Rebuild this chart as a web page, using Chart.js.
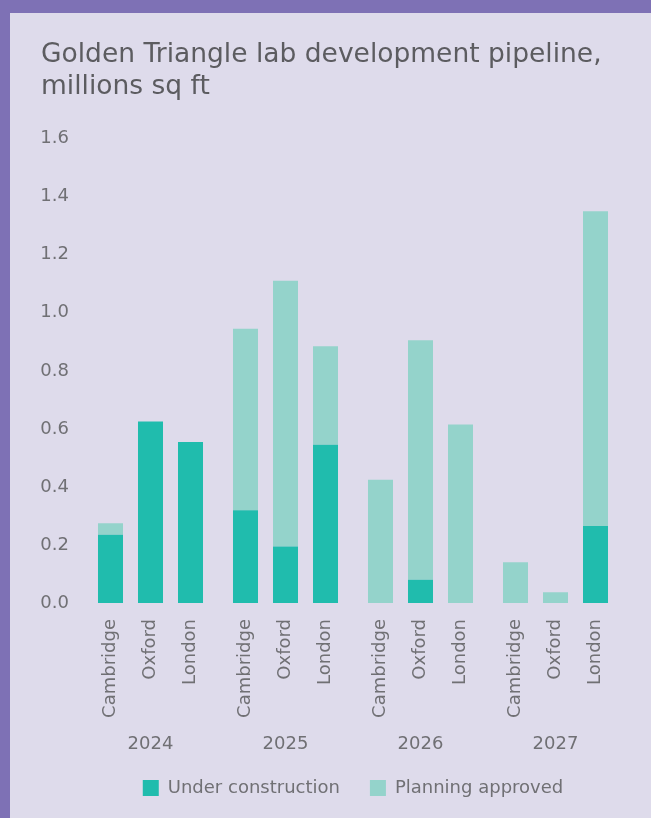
<!DOCTYPE html>
<html>
<head>
<meta charset="utf-8">
<script src="https://cdn.jsdelivr.net/npm/chart.js@4.4.1/dist/chart.umd.min.js"></script>
<style>
  html, body { margin: 0; height: 818px; overflow: hidden; background: #7e71b5; }
  #wrap { position: absolute; left: 10px; top: 13px; width: 641px; height: 805px; background: #dedbeb; }
</style>
</head>
<body>
<div id="wrap"><canvas id="pipeline" width="641" height="794"></canvas></div>
<script>
const FONT = "'DejaVu Sans', sans-serif";
const GREY = '#707074';

// data, millions sq ft
const years = ['2024', '2025', '2026', '2027'];
const cities = ['Cambridge', 'Oxford', 'London'];
const underConstruction = {
  Cambridge: [0.235, 0.32, 0, 0],
  Oxford:    [0.625, 0.195, 0.08, 0],
  London:    [0.555, 0.545, 0, 0.265]
};
const planningApproved = {
  Cambridge: [0.04, 0.625, 0.425, 0.14],
  Oxford:    [0, 0.915, 0.825, 0.037],
  London:    [0, 0.34, 0.615, 1.085]
};
const yTicks = [0, 0.2, 0.4, 0.6, 0.8, 1.0, 1.2, 1.4, 1.6];

const colUC = '#20bcad';
const colPA = '#94d3cb';

var datasets = [];
cities.forEach((city) => {
  datasets.push({ label: 'Under construction', stack: city, data: underConstruction[city], backgroundColor: colUC });
  datasets.push({ label: 'Planning approved', stack: city, data: planningApproved[city], backgroundColor: colPA });
});

// city names under each bar, rotated
const cityLabels = {
  id: 'cityLabels',
  afterDatasetsDraw(chart) {
    const ctx = chart.ctx;
    ctx.save();
    ctx.font = '18px ' + FONT;
    ctx.fillStyle = GREY;
    ctx.textAlign = 'right';
    ctx.textBaseline = 'middle';
    cities.forEach((city, c) => {
      const meta = chart.getDatasetMeta(c * 2);
      meta.data.forEach((bar) => {
        ctx.save();
        ctx.translate(bar.x, chart.chartArea.bottom + 16);
        ctx.rotate(-Math.PI / 2);
        ctx.fillText(city, 0, 0);
        ctx.restore();
      });
    });
    ctx.restore();
  }
};

new Chart(document.getElementById('pipeline'), {
  type: 'bar',
  data: { labels: years, datasets: datasets },
  options: {
    responsive: false,
    animation: false,
    devicePixelRatio: 1,
    categoryPercentage: 0.889,
    barPercentage: 0.625,
    layout: { padding: { left: 31, right: 28, top: 0, bottom: 0 } },
    scales: {
      x: {
        stacked: true,
        grid: { display: false, drawTicks: false },
        border: { display: false },
        // tall line height drops the year labels below the city names
        ticks: { padding: 0, color: GREY, font: { family: FONT, size: 18, lineHeight: '282px' } },
        afterFit: (s) => { s.height = 146; }
      },
      y: {
        stacked: true,
        min: 0,
        max: 1.6,
        grid: { display: false, drawTicks: false },
        border: { display: false },
        afterBuildTicks: (s) => { s.ticks = yTicks.map((v) => ({ value: v })); },
        afterFit: (s) => { s.width = 42; },
        ticks: {
          padding: 14,
          color: GREY,
          font: { family: FONT, size: 18 },
          callback: (v) => v.toFixed(1)
        }
      }
    },
    plugins: {
      title: {
        display: true,
        align: 'start',
        text: ['Golden Triangle lab development pipeline,', 'millions sq ft'],
        color: '#5c5c60',
        font: { family: FONT, size: 26.5, weight: 'normal', lineHeight: 1.22 },
        padding: { top: 26, bottom: 35 }
      },
      legend: {
        position: 'bottom',
        fullSize: false,
        labels: {
          boxWidth: 16,
          boxHeight: 16,
          padding: 30,
          color: GREY,
          font: { family: FONT, size: 18 },
          filter: (item) => item.datasetIndex < 2
        }
      },
      tooltip: { enabled: false }
    }
  },
  plugins: [cityLabels]
});
</script>
</body>
</html>
